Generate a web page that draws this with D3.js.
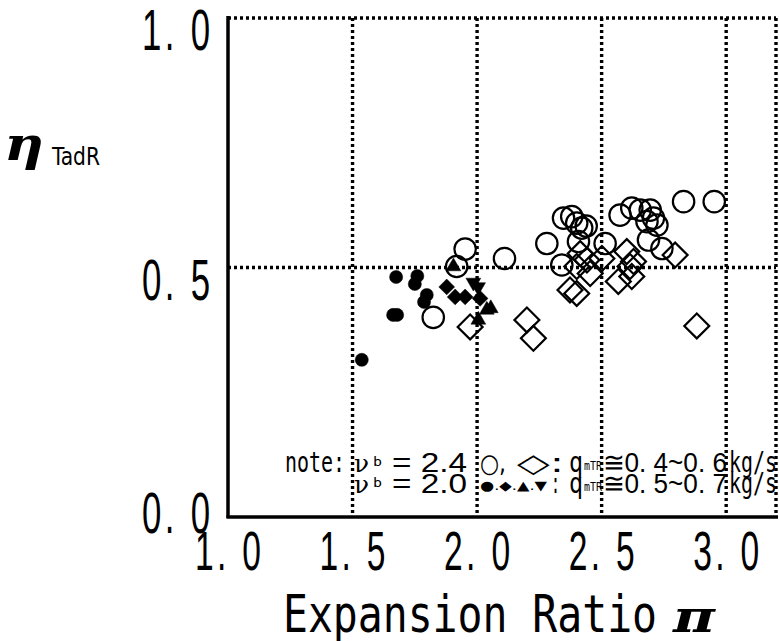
<!DOCTYPE html>
<html>
<head>
<meta charset="utf-8">
<script src="https://cdn.jsdelivr.net/npm/d3@7"></script>
<style>
html,body{margin:0;padding:0;background:#fff;}
svg{display:block;}
</style>
</head>
<body>
<svg id="chart" width="779" height="641"></svg>
<script>
// ---- data ----
const xTicks = [1.0, 1.5, 2.0, 2.5, 3.0];
const yTicks = [0.0, 0.5, 1.0];
const xTickLabels = ["1. 0", "1. 5", "2. 0", "2. 5", "3. 0"];
const yTickLabels = ["0. 0", "0. 5", "1. 0"];

// nu_b = 2.4, open circles
const openCircles = [
  [1.824,0.400],[1.918,0.502],[1.952,0.537],[2.110,0.518],[2.280,0.548],
  [2.347,0.599],[2.380,0.602],[2.400,0.589],[2.420,0.579],[2.438,0.583],
  [2.407,0.552],[2.340,0.505],[2.514,0.548],[2.574,0.605],[2.621,0.619],
  [2.655,0.615],[2.695,0.615],[2.708,0.599],[2.682,0.592],[2.722,0.585],
  [2.688,0.555],[2.742,0.538],[2.829,0.632],[2.952,0.632]
];
// nu_b = 2.4, open diamonds
const openDiamonds = [
  [1.972,0.381],[2.200,0.395],[2.226,0.358],[2.414,0.528],[2.441,0.515],
  [2.400,0.502],[2.454,0.488],[2.373,0.455],[2.400,0.448],[2.501,0.518],
  [2.601,0.532],[2.614,0.502],[2.628,0.512],[2.567,0.472],[2.621,0.482],
  [2.795,0.525],[2.882,0.383]
];
// nu_b = 2.0, filled markers
const filledCircles = [
  [1.537,0.315],[1.663,0.405],[1.679,0.405],[1.675,0.481],[1.760,0.483],
  [1.750,0.467],[1.798,0.445],[1.787,0.431]
];
const filledDiamonds = [[1.878,0.461],[1.912,0.441],[1.952,0.441],[2.012,0.438]];
const filledUpTriangles = [[1.905,0.502],[2.039,0.415],[2.005,0.395],[2.055,0.418]];
const filledDownTriangles = [[2.004,0.461],[1.985,0.470]];

// ---- layout ----
const svg = d3.select("#chart");
const x = d3.scaleLinear().domain([1.0, 3.2]).range([228, 776]);
const y = d3.scaleLinear().domain([0.0, 1.0]).range([517, 18]);
const MONO = "'DejaVu Sans Mono',monospace";
const SANS = "'Liberation Sans',Arial,sans-serif";

// grid (dotted)
const dot = g => g.attr("stroke","#000").attr("stroke-width",3.4)
  .attr("stroke-dasharray","3,3").attr("fill","none");
svg.append("g").selectAll("line").data(xTicks.filter(d=>d>1.0)).join("line")
  .attr("x1",d=>x(d)).attr("x2",d=>x(d)).attr("y1",y(1)).attr("y2",y(0)).call(dot);
svg.append("g").selectAll("line").data(yTicks.filter(d=>d>0 && d<1)).join("line")
  .attr("x1",x(1)).attr("x2",x(3.2)).attr("y1",d=>y(d)).attr("y2",d=>y(d)).call(dot);
svg.append("line").attr("x1",x(1)).attr("x2",x(3.2)).attr("y1",y(1)).attr("y2",y(1)).call(dot);
svg.append("line").attr("x1",x(3.2)).attr("x2",x(3.2)).attr("y1",y(1)).attr("y2",y(0)).call(dot);

// axes solid
const yAxis = d3.axisLeft(y).tickValues(yTicks).tickSize(0).tickFormat("");
const xAxis = d3.axisBottom(x).tickValues(xTicks).tickSize(0).tickFormat("");
svg.append("g").attr("transform",`translate(${x(1)},0)`).call(yAxis)
  .call(g=>g.select(".domain").attr("stroke","#000").attr("stroke-width",3.5).attr("d",`M0,${y(1)-2}V${y(0)+1}`));
svg.append("g").attr("transform",`translate(0,${y(0)})`).call(xAxis)
  .call(g=>g.select(".domain").attr("stroke","#000").attr("stroke-width",3.5).attr("d",`M${x(1)-1.5},0H${x(3.2)+2}`));

// condensed label helper: horizontally scaled sans text, evenly spaced
function condensed(sel, sx, width){
  sel.attr("font-family",SANS)
     .attr("textLength",width/sx).attr("lengthAdjust","spacing");
}

// tick labels
const yLabelBase = [533, 300, 50];
svg.append("g").selectAll("text").data(yTicks).join("text")
  .attr("transform",(d,i)=>`translate(142,${Math.min(y(d)+32, yLabelBase[i])}) scale(0.6,1)`)
  .attr("font-size",58)
  .call(condensed,0.6,68)
  .text((d,i)=>yTickLabels[i]);
svg.append("g").selectAll("text").data(xTicks).join("text")
  .attr("transform",d=>`translate(${x(d)-33},570) scale(0.6,1)`)
  .attr("font-size",56)
  .call(condensed,0.6,66)
  .text((d,i)=>xTickLabels[i]);

// axis titles
svg.append("text").attr("x",283).attr("y",632).attr("font-family",MONO).attr("font-size",51)
  .attr("textLength",374).attr("lengthAdjust","spacingAndGlyphs").text("Expansion Ratio");
svg.append("text").attr("x",673).attr("y",632).attr("font-family","'DejaVu Serif',serif")
  .attr("font-weight","bold").attr("font-style","italic").attr("font-size",44)
  .attr("textLength",42).attr("lengthAdjust","spacingAndGlyphs").text("π");
svg.append("text").attr("x",4).attr("y",160).attr("font-family","'DejaVu Serif',serif")
  .attr("font-weight","bold").attr("font-style","italic").attr("font-size",46)
  .attr("textLength",40).attr("lengthAdjust","spacingAndGlyphs").text("η");
svg.append("text").attr("x",52).attr("y",165).attr("font-family","'DejaVu Sans Condensed','Liberation Sans Narrow',sans-serif")
  .attr("font-size",25).attr("textLength",48).attr("lengthAdjust","spacingAndGlyphs").text("TadR");

// note
const note = svg.append("g").attr("font-family",SANS).attr("fill","#000");
function seg(txt,x0,yb,fs,len,family){
  const t = note.append("text").attr("x",x0).attr("y",yb).attr("font-size",fs).text(txt);
  if(len) t.attr("textLength",len).attr("lengthAdjust","spacingAndGlyphs");
  if(family) t.attr("font-family",family);
  return t;
}
// line 1
seg("note:",285,472,28,60,MONO);
seg("ν",354,472,24,15,"'DejaVu Serif',serif");
seg("b",373,466,13,9,MONO);
seg("= 2.4",392,472,28,75);
seg("○,",480,472,26,26,"'DejaVu Sans',sans-serif");
seg("◇:",517,472,26,47,"'DejaVu Sans',sans-serif");
seg("q",569,472,28,14,MONO);
seg("mTR",584,470,12,18,MONO);
seg("≅0. 4~0. 6",603,472,28,124);
seg("kg/s",729,472,28,48,MONO);
// line 2
seg("ν",354,493,24,15,"'DejaVu Serif',serif");
seg("b",373,487,13,9,MONO);
seg("= 2.0",392,493,28,75);
seg("●.◆.▲.▼",480,490,13,67,"'DejaVu Sans',sans-serif");
seg(":",551,493,28,9,MONO);
seg("q",569,493,28,14,MONO);
seg("mTR",584,491,12,18,MONO);
seg("≅0. 5~0. 7",603,493,28,124);
seg("kg/s",729,493,28,48,MONO);

// markers
const pts = svg.append("g");
function draw(data, type, size, filled, rot){
  pts.append("g").selectAll("path").data(data).join("path")
    .attr("d", d3.symbol().type(type).size(size))
    .attr("transform", d=>`translate(${x(d[0])},${y(d[1])}) rotate(${rot||0})`)
    .attr("fill", filled ? "#000" : "none")
    .attr("stroke", "#000")
    .attr("stroke-width", filled ? 0.5 : 2.2);
}
draw(openCircles, d3.symbolCircle, 360, false);
draw(openDiamonds, d3.symbolSquare, 310, false, 45);
draw(filledCircles, d3.symbolCircle, 135, true);
draw(filledDiamonds, d3.symbolSquare, 125, true, 45);
draw(filledUpTriangles, d3.symbolTriangle, 95, true);
draw(filledDownTriangles, d3.symbolTriangle, 95, true, 180);
</script>
</body>
</html>
